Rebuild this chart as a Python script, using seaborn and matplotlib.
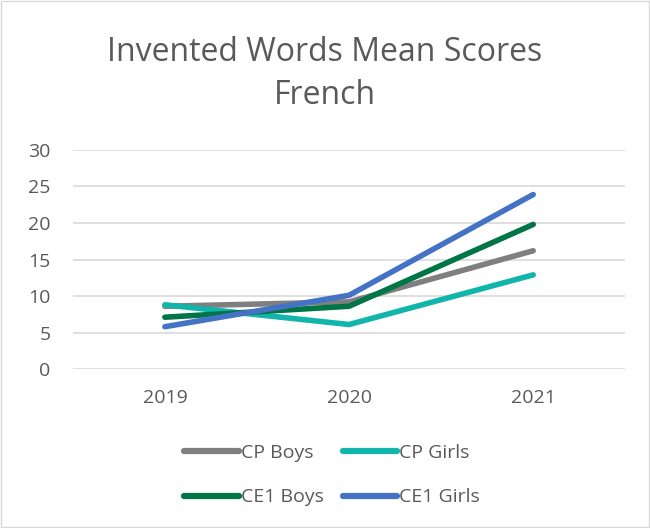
import pandas as pd
import seaborn as sns
import matplotlib.pyplot as plt

years = ['2019', '2020', '2021']
cp_boys = [8.6, 9.2, 16.2]
cp_girls = [8.8, 6.1, 12.9]
ce1_boys = [7.1, 8.6, 19.8]
ce1_girls = [5.8, 10.1, 23.9]
groups = ['CP Boys', 'CP Girls', 'CE1 Boys', 'CE1 Girls']
colors = ['#7f7f7f', '#12b5ab', '#007548', '#4472c4']

rows = []
for name, vals in zip(groups, [cp_boys, cp_girls, ce1_boys, ce1_girls]):
    for i, v in enumerate(vals):
        rows.append({'pos': i, 'Year': years[i], 'Group': name, 'Score': v})
df = pd.DataFrame(rows)

sns.set_style('white')
plt.rcParams['font.family'] = ['Open Sans', 'DejaVu Sans']

fig = plt.figure(figsize=(6.5, 5.28), dpi=100)
ax = fig.add_axes([0.112, 0.301, 0.85, 0.415])

sns.lineplot(data=df, x='pos', y='Score', hue='Group', palette=colors,
             hue_order=groups, linewidth=4, ax=ax, legend=False)

ax.set_xlim(-0.5, 2.5)
ax.set_ylim(0, 30)
ax.set_yticks(range(0, 31, 5))
ax.set_xticks(range(len(years)))
ax.set_xticklabels(years)
ax.set_xlabel('')
ax.set_ylabel('')
ax.grid(axis='y', color='#d9d9d9', linewidth=1.2)
ax.set_axisbelow(True)
for s in ax.spines.values():
    s.set_visible(False)
ax.tick_params(axis='both', length=0, labelsize=14, colors='#595959')
ax.tick_params(axis='y', pad=16)
ax.tick_params(axis='x', pad=14)

fig.text(0.5, 0.86, 'Invented Words Mean Scores\nFrench', ha='center', va='center',
         fontsize=23, color='#595959', linespacing=1.42)

# legend reads row-wise in the reference, matplotlib fills columns first
order = [0, 2, 1, 3]
handles = [plt.Line2D([], [], color=colors[i], linewidth=4.5, solid_capstyle='round') for i in order]
labels = [groups[i] for i in order]
fig.legend(handles, labels, ncol=2, loc='center', bbox_to_anchor=(0.511, 0.1),
           frameon=False, fontsize=14, labelcolor='#595959', handlelength=2.8,
           handletextpad=0.1, columnspacing=1.0, labelspacing=1.35)

border = plt.Rectangle((0.002, 0.002), 0.996, 0.996, transform=fig.transFigure,
                       fill=False, edgecolor='#d9d9d9', linewidth=1)
fig.patches.append(border)

fig.savefig('out.png', dpi=100)
